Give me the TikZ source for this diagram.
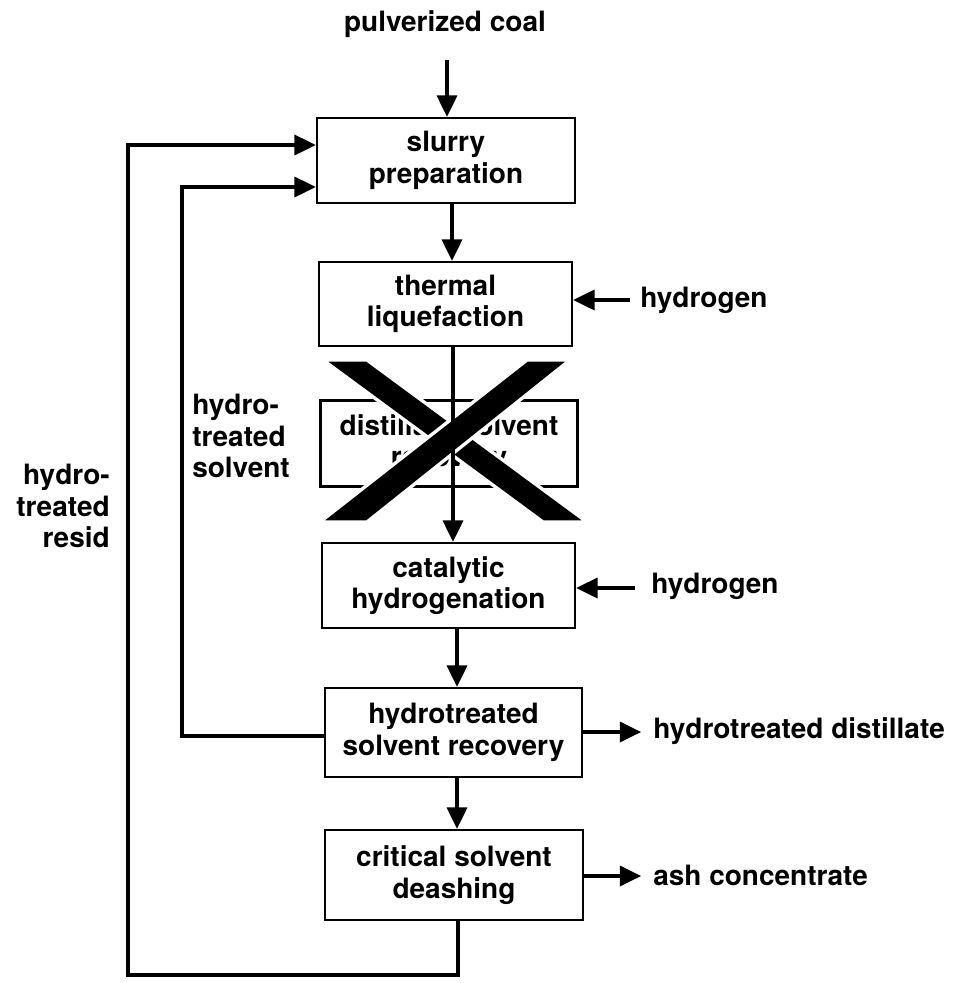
\documentclass[tikz,border=0pt]{standalone}
\usepackage{fontspec}
\setmainfont{TeX Gyre Heros}
\usetikzlibrary{arrows.meta}
\begin{document}
\begin{tikzpicture}[x=0.75pt,y=-0.75pt,
  lbl/.style={font=\bfseries\fontsize{21}{23.5}\selectfont, inner sep=0pt},
  box/.style={draw, line width=1.8pt, align=center, inner sep=0pt,
    font=\bfseries\fontsize{21}{23.5}\selectfont},
  arr/.style={line width=2.6pt, -{Triangle[length=16pt,width=15pt]}},
  ln/.style={line width=2.6pt}]
\useasboundingbox (0,0) rectangle (957,983);
% boxes
\node[box, minimum width=258*0.75pt, minimum height=85*0.75pt] (slurry) at (446,160.5) {slurry\\preparation};
\node[box, minimum width=253*0.75pt, minimum height=84*0.75pt] (thermal) at (445.5,304) {thermal\\liquefaction};
\node[box, minimum width=257*0.75pt, minimum height=86*0.75pt] (dist) at (449,443.5) {distillate solvent\\recovery};
\node[box, minimum width=253*0.75pt, minimum height=85*0.75pt] (cat) at (448.5,585.5) {catalytic\\hydrogenation};
\node[box, minimum width=257*0.75pt, minimum height=89*0.75pt] (hsr) at (453.5,732.5) {hydrotreated\\solvent recovery};
\node[box, minimum width=258*0.75pt, minimum height=90*0.75pt] (csd) at (454,875) {critical solvent\\deashing};
% labels
\node[lbl] (coal) at (445,24) {pulverized coal};
\node[lbl, anchor=west] (h1) at (640,300) {hydrogen};
\node[lbl, anchor=west] (h2) at (651,586) {hydrogen};
\node[lbl, anchor=west] (dout) at (653,731) {hydrotreated distillate};
\node[lbl, anchor=west] (aout) at (653,875) {ash concentrate};
\node[lbl, anchor=north west, align=left] (solv) at (192,394) {hydro-\\treated\\solvent};
\node[lbl, anchor=north east, align=right] (resid) at (110,464) {hydro-\\treated\\resid};
% crossing X
\filldraw[draw=white, line width=2.5pt, fill=black]
  (323,360) -- (367,360) -- (587,522) -- (543,522) -- cycle;
\filldraw[draw=white, line width=2.5pt, fill=black]
  (527,360) -- (570,360) -- (367,522) -- (320,522) -- cycle;
% coordinates
\coordinate (c0) at (447,60);
\coordinate (c1) at (630,300);
\coordinate (c2) at (635,588);
\coordinate (r1) at (128,975);
\coordinate (r2) at (182,736);
% vertical flow
\draw[arr] (c0) -- (c0 |- slurry.north);
\draw[arr] (slurry.south -| 452,0) -- (thermal.north -| 452,0);
\draw[arr] (thermal.south -| 453,0) -- (cat.north -| 453,0);
\draw[arr] (cat.south -| 457,0) -- (hsr.north -| 457,0);
\draw[arr] (hsr.south -| 457,0) -- (csd.north -| 457,0);
% hydrogen inputs
\draw[arr] (c1) -- (c1 -| thermal.east);
\draw[arr] (c2) -- (c2 -| cat.east);
% outputs
\draw[arr] (hsr.east |- 0,732) -- ++(58,0);
\draw[arr] (csd.east |- 0,876) -- ++(57,0);
% recycle loops
\draw[arr, line join=miter] (csd.south -| 458,0) |- (r1) |- (slurry.west |- 0,145);
\draw[arr, line join=miter] (hsr.west |- r2) -- (r2) |- (slurry.west |- 0,187);
\end{tikzpicture}
\end{document}
